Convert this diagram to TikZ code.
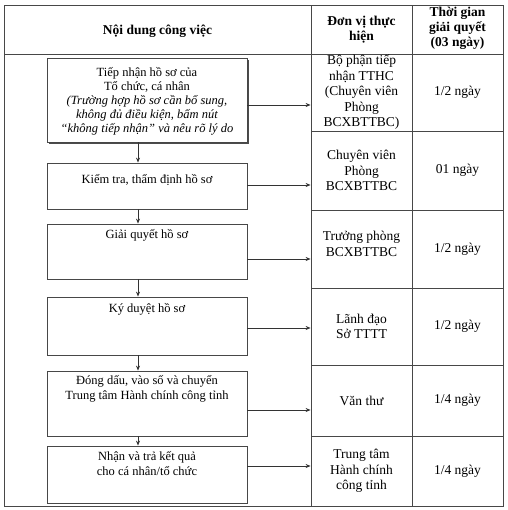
\documentclass[tikz,border=0pt]{standalone}
\usepackage{fontspec}
\setmainfont{Liberation Serif}
\usetikzlibrary{arrows.meta}
\begin{document}
\begin{tikzpicture}[x=1pt,y=-1pt,
  ln/.style={draw=black!72, line width=0.8pt},
  box/.style={ln, rectangle, minimum width=200pt, inner sep=0pt, fill=white},
  txt/.style={align=center, inner sep=0pt, font=\fontsize{12.5}{15}\selectfont},
  cellB/.style={ln, rectangle, minimum width=101pt, inner sep=0pt, align=center, font=\fontsize{13.5}{15.5}\selectfont},
  cellC/.style={ln, rectangle, minimum width=91pt, inner sep=0pt, align=center, font=\fontsize{13.5}{15.5}\selectfont},
  head/.style={align=center, inner sep=0pt, font=\bfseries\fontsize{13.5}{15}\selectfont},
  arr/.style={draw=black!80, line width=0.8pt, -{Stealth[length=5pt,width=4pt]}}
]
\useasboundingbox (0,0) rectangle (507,510);
\fill[white] (0,0) rectangle (507,510);

% header cells
\node[ln, rectangle, minimum width=307pt, minimum height=49pt, inner sep=0pt] (hA) at (157.5,29.5) {};
\node[cellB, minimum height=49pt] (hB) at (361.5,29.5) {};
\node[cellC, minimum height=49pt] (hC) at (457.5,29.5) {};
\node[head] (hAt) at (157.5,31) {Nội dung công việc};
\node[head] (hBt) at (361.5,30) {Đơn vị thực\\hiện};
\node[head] (hCt) at (457.5,28) {Thời gian\\giải quyết\\(03 ngày)};

% left column frame
\node[ln, rectangle, minimum width=307pt, minimum height=452pt, inner sep=0pt] (frame) at (157.5,280) {};

% right columns
\node[cellB, minimum height=77pt] (r1) at (361.5,92.5) {Bộ phận tiếp\\nhận TTHC\\(Chuyên viên\\Phòng\\BCXBTTBC)};
\node[cellB, minimum height=79pt] (r2) at (361.5,170.5) {Chuyên viên\\Phòng\\BCXBTTBC};
\node[cellB, minimum height=78pt] (r3) at (361.5,249) {};
\node[cellB, minimum height=77pt] (r4) at (361.5,326.5) {Lãnh đạo\\Sở TTTT};
\node[cellB, minimum height=71pt] (r5) at (361.5,400.5) {Văn thư};
\node[cellB, minimum height=70pt] (r6) at (361.5,471) {Trung tâm\\Hành chính\\công tỉnh};
\node[align=center, inner sep=0pt, font=\fontsize{13.5}{15.5}\selectfont] (r3t) at (361.5,244) {Trưởng phòng\\BCXBTTBC};

\node[cellC, minimum height=77pt] (d1) at (457.5,92.5) {1/2 ngày};
\node[cellC, minimum height=79pt] (d2) at (457.5,170.5) {01 ngày};
\node[cellC, minimum height=78pt] (d3) at (457.5,249) {1/2 ngày};
\node[cellC, minimum height=77pt] (d4) at (457.5,326.5) {1/2 ngày};
\node[cellC, minimum height=71pt] (d5) at (457.5,400.5) {1/4 ngày};
\node[cellC, minimum height=70pt] (d6) at (457.5,471) {1/4 ngày};

% process boxes
\node[box, minimum height=84pt, preaction={fill=black!70, transform canvas={shift={(2pt,-2pt)}}}] (b1) at (147,100) {};
\node[box, minimum height=46pt] (b2) at (147,186) {};
\node[box, minimum height=55pt] (b3) at (147,251.5) {};
\node[box, minimum height=58pt] (b4) at (147,326) {};
\node[box, minimum height=65pt] (b5) at (147,403.5) {};
\node[box, minimum height=57pt] (b6) at (147,474.5) {};

\node[txt, font=\fontsize{12.5}{14}\selectfont] (t1) at (147,101) {Tiếp nhận hồ sơ của\\Tổ chức, cá nhân\\\itshape (Trường hợp hồ sơ cần bổ sung,\\\itshape không đủ điều kiện, bấm nút\\\itshape “không tiếp nhận” và nêu rõ lý do};
\node[txt] (t2) at (147,180) {Kiểm tra, thẩm định hồ sơ};
\node[txt] (t3) at (147,235) {Giải quyết hồ sơ};
\node[txt] (t4) at (147,309) {Ký duyệt hồ sơ};
\node[txt] (t5) at (147,389) {Đóng dấu, vào số và chuyển\\Trung tâm Hành chính công tỉnh};
\node[txt] (t6) at (147,464) {Nhận và trả kết quả\\cho cá nhân/tổ chức};

% vertical arrows
\coordinate (vx) at (138,0);
\draw[arr] (b1.south -| vx) -- (b2.north -| vx);
\draw[arr] (b2.south -| vx) -- (b3.north -| vx);
\draw[arr] (b3.south -| vx) -- (b4.north -| vx);
\draw[arr] (b4.south -| vx) -- (b5.north -| vx);
\draw[arr] (b5.south -| vx) -- (b6.north -| vx);

% horizontal arrows
\draw[arr] ([yshift=-5pt]b1.east) -- ([yshift=-5pt]b1.east -| r1.west);
\draw[arr] ([yshift=1pt]b2.east) -- ([yshift=1pt]b2.east -| r2.west);
\draw[arr] ([yshift=-7.5pt]b3.east) -- ([yshift=-7.5pt]b3.east -| r3.west);
\draw[arr] ([yshift=-2pt]b4.east) -- ([yshift=-2pt]b4.east -| r4.west);
\draw[arr] ([yshift=-6.5pt]b5.east) -- ([yshift=-6.5pt]b5.east -| r5.west);
\draw[arr] ([yshift=8.5pt]b6.east) -- ([yshift=8.5pt]b6.east -| r6.west);
\end{tikzpicture}
\end{document}
